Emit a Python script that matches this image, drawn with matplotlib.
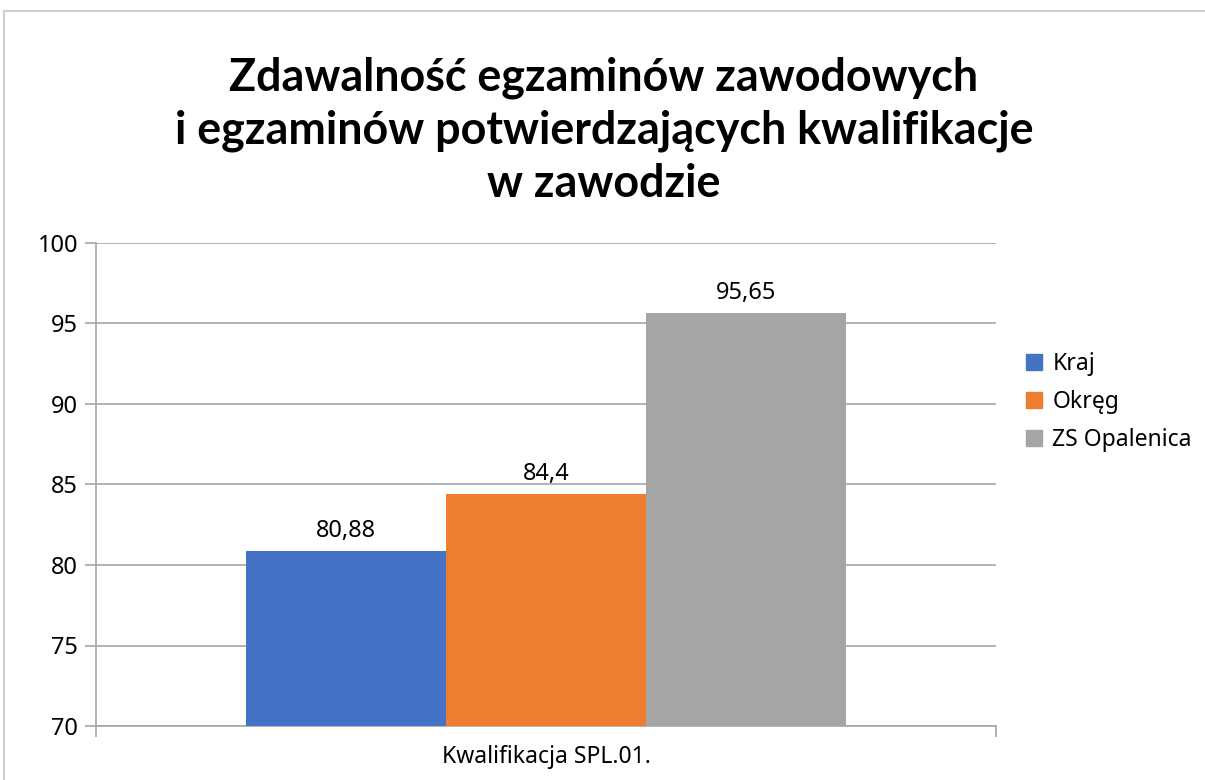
import matplotlib
matplotlib.use("Agg")
import matplotlib.pyplot as plt
from matplotlib.patches import Rectangle
from matplotlib.lines import Line2D

plt.rcParams['font.family'] = ['Noto Sans', 'DejaVu Sans']

title_lines = ["Zdawalność egzaminów zawodowych",
               "i egzaminów potwierdzających kwalifikacje",
               "w zawodzie"]
category = "Kwalifikacja SPL.01."
series = ["Kraj", "Okręg", "ZS Opalenica"]
values = [80.88, 84.4, 95.65]
value_labels = ["80,88", "84,4", "95,65"]
colors = ["#4472C4", "#ED7D31", "#A5A5A5"]
y_ticks = [70, 75, 80, 85, 90, 95, 100]

W, H = 1205, 780
fig = plt.figure(figsize=(W / 100, H / 100), dpi=100)
fig.patch.set_facecolor("white")

# outer chart border (top and left visible)
fig.add_artist(Line2D([4 / W, 4 / W], [0, 1 - 11 / H], transform=fig.transFigure,
                      color="#D0D0D0", lw=1.5))
fig.add_artist(Line2D([4 / W, 1], [1 - 11 / H, 1 - 11 / H], transform=fig.transFigure,
                      color="#D0D0D0", lw=1.5))

ax = fig.add_axes([96 / W, 1 - 726 / H, 900 / W, 483 / H])

bw = 2 / 9
offsets = [-bw, 0, bw]
for off, v, lab, c, name in zip(offsets, values, value_labels, colors, series):
    ax.bar(off, v - 70, bottom=70, width=bw, color=c, label=name, zorder=3)
    ax.annotate(lab, (off, v), xytext=(0, 10), textcoords="offset points",
                ha="center", va="baseline", fontsize=17, color="#000000", zorder=4)

ax.set_xlim(-0.5, 0.5)
ax.set_ylim(70, 100)
ax.set_yticks(y_ticks)
ax.set_yticklabels([str(t) for t in y_ticks], fontsize=17)
ax.yaxis.grid(True, color="#A6A6A6", lw=1.2, zorder=0)
ax.set_axisbelow(True)

ax.set_xticks([-0.5, 0.5])
ax.set_xticklabels(["", ""])
ax.set_xticks([0], minor=True)
ax.set_xticklabels([category], minor=True, fontsize=16.5)
ax.tick_params(axis="x", which="major", direction="out", length=8, color="#A6A6A6", width=1.2)
ax.tick_params(axis="x", which="minor", length=0, pad=14)
ax.tick_params(axis="y", direction="out", length=8, color="#A6A6A6", width=1.2, pad=5)

for s in ["top", "right"]:
    ax.spines[s].set_visible(False)
for s in ["left", "bottom"]:
    ax.spines[s].set_color("#A6A6A6")
    ax.spines[s].set_linewidth(1.2)

for i, line in enumerate(title_lines):
    fig.text(604 / W, 1 - (78 + i * 53) / H, line, ha="center", va="center",
             fontsize=32.3, fontweight="bold", color="#000000",
             family=["Lato", "Open Sans", "DejaVu Sans"])

handles = [Rectangle((0, 0), 1, 1, color=c) for c in colors]
leg = fig.legend(handles, series, loc="upper left", bbox_to_anchor=(1026 / W, 1 - 352 / H),
                 frameon=False, fontsize=16.5, handlelength=0.7, handleheight=0.7,
                 handletextpad=0.45, labelspacing=0.62, borderaxespad=0, borderpad=0)

fig.savefig("out.png", dpi=100, facecolor="white")
